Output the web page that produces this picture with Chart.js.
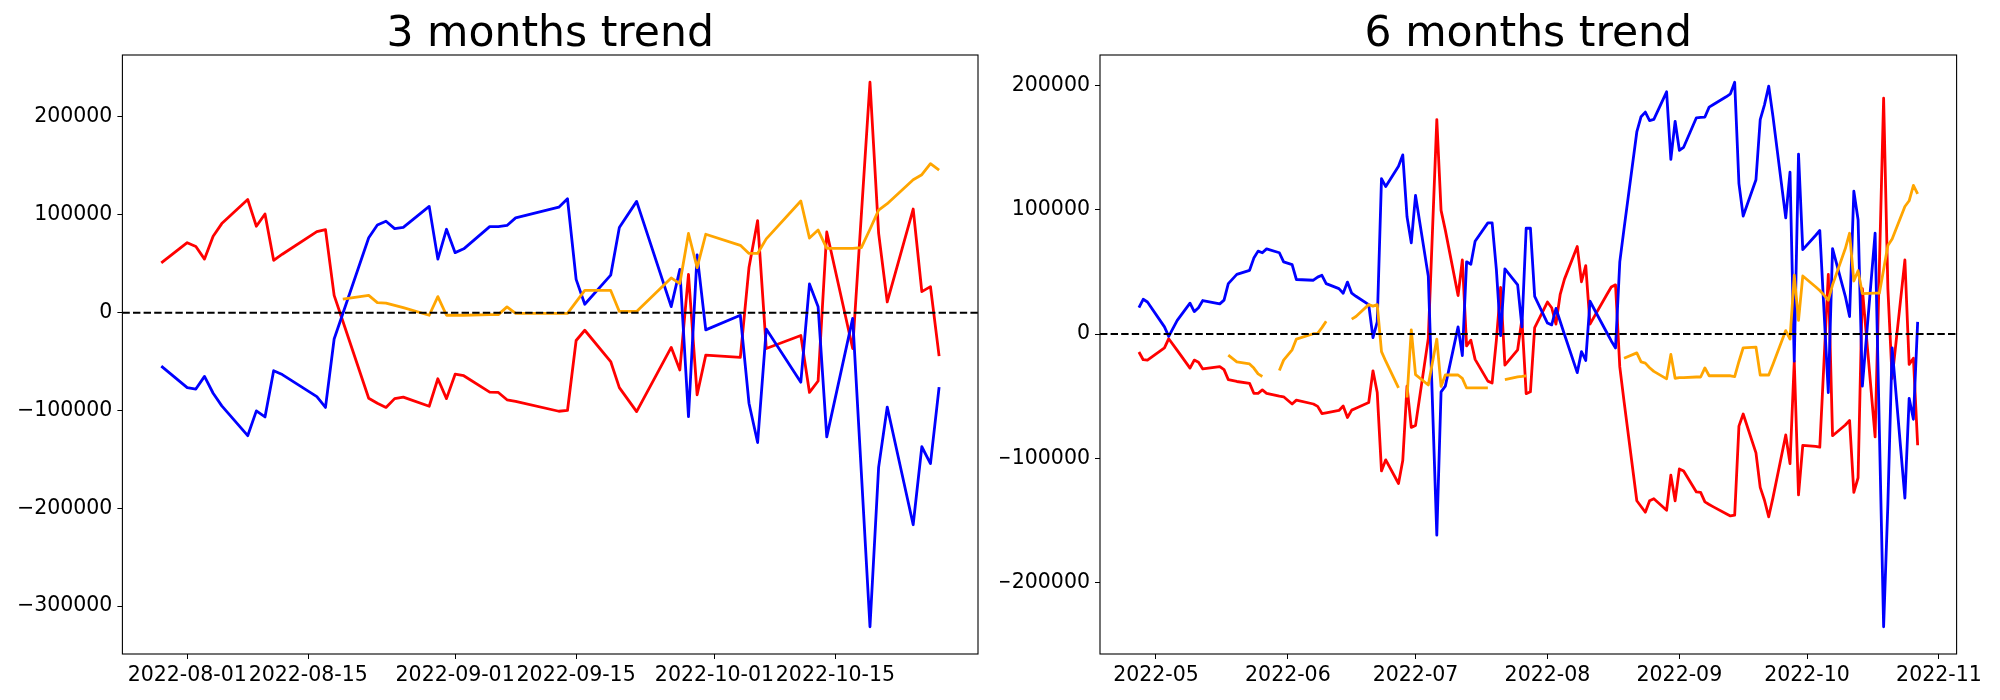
<!DOCTYPE html>
<html>
<head>
<meta charset="utf-8">
<script src="https://cdn.jsdelivr.net/npm/chart.js@4.4.0/dist/chart.umd.min.js"></script>
<style>
  body { margin: 0; background: #fff; }
  .panel { position: absolute; top: 0; width: 1000px; height: 700px; }
</style>
</head>
<body>
<div class="panel" style="left:0"><canvas id="chart3m"></canvas></div>
<div class="panel" style="left:1000px"><canvas id="chart6m"></canvas></div>
<script>
// 3 months data ===========================================
const dates3m = ['2022-07-29','2022-08-01','2022-08-02','2022-08-03','2022-08-04','2022-08-05','2022-08-08','2022-08-09','2022-08-10','2022-08-11',
  '2022-08-12','2022-08-16','2022-08-17','2022-08-18','2022-08-19','2022-08-22','2022-08-23','2022-08-24','2022-08-25','2022-08-26',
  '2022-08-29','2022-08-30','2022-08-31','2022-09-01','2022-09-02','2022-09-05','2022-09-06','2022-09-07','2022-09-08','2022-09-13',
  '2022-09-14','2022-09-15','2022-09-16','2022-09-19','2022-09-20','2022-09-22','2022-09-26','2022-09-27','2022-09-28','2022-09-29',
  '2022-09-30','2022-10-04','2022-10-05','2022-10-06','2022-10-07','2022-10-11','2022-10-12','2022-10-13','2022-10-14','2022-10-17',
  '2022-10-18','2022-10-19','2022-10-20','2022-10-21','2022-10-24','2022-10-25','2022-10-26','2022-10-27'];
const red3m = [50800, 71500, 67600, 54700, 78100, 91000, 115600, 88300, 100800, 53500,
  59700, 82800, 84800, 17600, -8500, -87500, -92600, -96900, -87900, -86300,
  -95700, -67600, -87900, -62900, -64500, -81300, -81600, -89100, -90600, -100800,
  -100000, -28500, -18000, -50000, -76600, -101200, -35500, -58600, 39100, -84000,
  -43400, -45700, 46100, 94100, -36700, -23400, -81600, -69900, 82400, -36700,
  99600, 235500, 81300, 10900, 105900, 21500, 26600, -44500];
const blue3m = [-54700, -76600, -78100, -65200, -82400, -95300, -125800, -100400, -106600, -59400,
  -63300, -85900, -96900, -27000, -1200, 76600, 89500, 93400, 85900, 87100,
  108600, 54700, 85200, 61300, 65200, 87900, 87900, 89100, 96900, 107800,
  116400, 34000, 8600, 38300, 87100, 113700, 6200, 44100, -106300, 59000,
  -17600, -2700, -92600, -132800, -16800, -71100, 29300, 5900, -127000, -5900,
  -163300, -321100, -158200, -96500, -216800, -137100, -154300, -76200];
const orange3m = [null, null, null, null, null, null, null, null, null, null,
  null, null, null, null, 13700, 17600, 10200, 9800, 7400, 5100,
  -2700, 16400, -2700, -2700, -2700, -2000, -2000, 5900, -800, -800,
  -800, 10900, 22700, 22700, 1200, 1200, 35500, 29700, 80900, 46000,
  80100, 68800, 60500, 60500, 75400, 114100, 76200, 84400, 65600, 65600,
  66400, 85200, 104700, 111300, 135900, 141000, 152300, 145700];
const xTicks3m = ['2022-08-01', '2022-08-15', '2022-09-01', '2022-09-15', '2022-10-01', '2022-10-15'];
const yTicks3m = [-300000, -200000, -100000, 0, 100000, 200000];

// 6 months data ===========================================
const dates6m = ['2022-04-27','2022-04-28','2022-04-29','2022-05-03','2022-05-04','2022-05-06','2022-05-09','2022-05-10','2022-05-11','2022-05-12',
  '2022-05-16','2022-05-17','2022-05-18','2022-05-20','2022-05-23','2022-05-24','2022-05-25','2022-05-26','2022-05-27','2022-05-30',
  '2022-05-31','2022-06-02','2022-06-03','2022-06-07','2022-06-08','2022-06-09','2022-06-10','2022-06-13','2022-06-14','2022-06-15',
  '2022-06-16','2022-06-17','2022-06-20','2022-06-21','2022-06-22','2022-06-23','2022-06-24','2022-06-27','2022-06-28','2022-06-29',
  '2022-06-30','2022-07-01','2022-07-04','2022-07-06','2022-07-07','2022-07-08','2022-07-11','2022-07-12','2022-07-13','2022-07-14',
  '2022-07-15','2022-07-18','2022-07-19','2022-07-20','2022-07-21','2022-07-22','2022-07-25','2022-07-26','2022-07-27','2022-07-28',
  '2022-07-29','2022-08-01','2022-08-02','2022-08-03','2022-08-04','2022-08-05','2022-08-08','2022-08-09','2022-08-10','2022-08-11',
  '2022-08-12','2022-08-15','2022-08-16','2022-08-17','2022-08-18','2022-08-19','2022-08-22','2022-08-23','2022-08-24','2022-08-25',
  '2022-08-26','2022-08-29','2022-08-30','2022-08-31','2022-09-01','2022-09-02','2022-09-05','2022-09-06','2022-09-07','2022-09-08',
  '2022-09-09','2022-09-12','2022-09-13','2022-09-14','2022-09-15','2022-09-16','2022-09-19','2022-09-20','2022-09-21','2022-09-22',
  '2022-09-23','2022-09-26','2022-09-27','2022-09-28','2022-09-29','2022-09-30','2022-10-03','2022-10-04','2022-10-05','2022-10-06',
  '2022-10-07','2022-10-10','2022-10-11','2022-10-12','2022-10-13','2022-10-14','2022-10-17','2022-10-18','2022-10-19','2022-10-20',
  '2022-10-21','2022-10-24','2022-10-25','2022-10-26','2022-10-27'];
const red6m = [-14400, -20600, -20900, -11100, -3700, -13100, -27300, -20900, -22700, -28000,
  -26100, -28600, -36600, -38100, -39600, -47600, -47600, -44900, -47600, -49800,
  -50400, -56200, -53100, -56200, -58100, -63900, -63300, -61400, -57800, -67000,
  -61100, -59600, -55000, -29500, -47000, -110000, -101100, -120100, -101700, -41800,
  -75000, -73400, -3400, 172400, 99500, 83600, 31000, 59600, -9500, -4900,
  -20300, -37800, -39300, -4900, 37500, -24900, -12600, 12000, -47900, -46400,
  5200, 25800, 21200, 8000, 32000, 44200, 70400, 42100, 55000, 8000,
  14100, 32000, 37800, 39600, -26400, -54100, -134000, -138600, -143200, -134000,
  -132400, -141600, -113400, -134000, -108400, -110000, -126900, -127200, -134900, -137000,
  -138900, -144400, -146200, -145600, -74000, -64200, -95500, -123200, -133600, -146900,
  -131500, -81100, -104100, -21800, -129300, -89400, -90300, -90900, -21500, 47900,
  -81700, -73100, -69400, -127200, -115500, 36600, -82600, 53500, 189600, 36600,
  -35600, 59600, -24300, -19400, -89400];
const blue6m = [21200, 28000, 25800, 5800, -1800, 11100, 24900, 18100, 21200, 27000,
  24300, 27300, 40600, 48000, 51300, 61100, 66700, 65400, 68500, 65400,
  58000, 55900, 43900, 43300, 45800, 47300, 40600, 36600, 32900, 41800,
  32900, 30400, 23700, -2800, 9800, 125000, 118600, 134900, 144100, 94300,
  73400, 111500, 46400, -161600, -46400, -41800, 5800, -17200, 58100, 56200,
  74700, 89400, 89400, 51900, -1200, 52500, 39600, 5800, 85100, 85100,
  30400, 8900, 7400, 20600, 10100, -300, -31000, -14100, -21200, 26400,
  20000, 900, -5500, -11100, 58100, 84800, 162500, 174800, 178500, 171700,
  172700, 194800, 140400, 171100, 147800, 150200, 173900, 174200, 174500, 182500,
  184600, 190800, 193200, 202500, 121000, 94900, 124100, 172400, 184300, 199400,
  174800, 93400, 130300, -21800, 144700, 67900, 79300, 83300, 18100, -47000,
  68800, 30400, 14100, 114900, 91900, -41800, 81100, -77100, -235300, -136700,
  -11100, -131800, -51600, -68500, 9800];
const orange6m = [null, null, null, null, null, null, null, null, null, null,
  null, null, -16900, -22400, -24000, -27300, -32000, -34100, null, -29200,
  -20900, -12600, -4000, 300, 600, 5200, 10400, null, null, null,
  12000, 14100, 23700, 22500, 23700, -14100, -21800, -43300, null, -51000,
  3400, -32600, -40900, -4000, -42100, -32900, -32900, -35600, -43300, -43300,
  -43300, -43300, null, null, null, -36600, -34400, -34000, -33500, null,
  null, null, null, null, null, null, null, null, null, null,
  null, null, null, null, null, -19400, -15100, -22400, -23300, -27000,
  -30000, -36000, -16300, -35500, -35000, -35000, -34500, -34500, -27200, -33500,
  -33500, -33500, -33500, -34100, -22000, -11000, -10400, -32900, -32900, -32900,
  -24300, 2800, -4000, 47300, 11100, 46700, 38100, 35000, 31300, 27300,
  39600, 68800, 81100, 42700, 51000, 32600, 32900, 32900, 51900, 71300,
  76500, 102600, 107200, 119500, 112700];
const xTicks6m = ['2022-05', '2022-06', '2022-07', '2022-08', '2022-09', '2022-10', '2022-11'];
const yTicks6m = [-200000, -100000, 0, 100000, 200000];

// helpers =================================================
const DAY = 86400000;
function toDay(s) {
  const [y, m, d] = s.split('-').map(Number);
  return Date.UTC(y, m - 1, d || 1) / DAY;
}
function dayLabel(v, len) {
  return new Date(Math.round(v) * DAY).toISOString().slice(0, len);
}
function withMinus(v) {
  return v < 0 ? '\u2212' + Math.abs(v) : String(v);
}
// matplotlib style 5% margins
function margins(lo, hi) {
  const m = (hi - lo) * 0.05;
  return [lo - m, hi + m];
}

const tickFont = { family: 'DejaVu Sans', size: 20.5 };

// zero line, box around the plot area and a title centred over it
const frameAndZero = {
  id: 'frameAndZero',
  afterDatasetsDraw(chart, args, opts) {
    const { ctx, chartArea: a, scales: { y } } = chart;
    const y0 = y.getPixelForValue(0);
    ctx.save();
    ctx.strokeStyle = '#000';
    ctx.lineWidth = 2;
    ctx.setLineDash([7.4, 3.2]);
    ctx.beginPath();
    ctx.moveTo(a.left, y0);
    ctx.lineTo(a.right, y0);
    ctx.stroke();
    ctx.setLineDash([]);
    ctx.lineWidth = 1.1;
    ctx.strokeRect(a.left, a.top, a.right - a.left, a.bottom - a.top);

    ctx.fillStyle = '#000';
    ctx.font = '42.5px "DejaVu Sans"';
    ctx.textAlign = 'center';
    ctx.textBaseline = 'alphabetic';
    ctx.fillText(opts.text, (a.left + a.right) / 2, a.top - 9);
    ctx.restore();
  },
};

function makeChart(canvasId, opt) {
  const xs = opt.dates.map(toDay);
  const vals = [...opt.red, ...opt.blue, ...opt.orange].filter((v) => v !== null);
  const [xMin, xMax] = margins(Math.min(...xs), Math.max(...xs));
  const [yMin, yMax] = margins(Math.min(...vals), Math.max(...vals));

  const line = (values, color) => ({
    data: values.map((v, i) => ({ x: xs[i], y: v })),
    borderColor: color,
    borderWidth: 2.8,
    borderJoinStyle: 'round',
    pointRadius: 0,
    tension: 0,
    fill: false,
    spanGaps: false,
  });

  return new Chart(document.getElementById(canvasId), {
    type: 'line',
    data: {
      datasets: [
        line(opt.orange, '#ffa500'),
        line(opt.blue, '#0000ff'),
        line(opt.red, '#ff0000'),
      ],
    },
    options: {
      responsive: true,
      maintainAspectRatio: false,
      animation: false,
      layout: { padding: { left: 0, right: opt.padRight, top: 55, bottom: 0 } },
      plugins: {
        legend: { display: false },
        tooltip: { enabled: false },
        frameAndZero: { text: opt.title },
      },
      scales: {
        x: {
          type: 'linear',
          min: xMin,
          max: xMax,
          afterBuildTicks: (s) => { s.ticks = opt.xTicks.map((t) => ({ value: toDay(t) })); },
          afterFit: (s) => { s.height = 46; },
          border: { display: false },
          grid: { drawOnChartArea: false, drawTicks: true, tickLength: 5, color: '#000', lineWidth: 1 },
          ticks: {
            autoSkip: false, maxRotation: 0, minRotation: 0, padding: 4,
            color: '#000', font: tickFont,
            callback: (v) => dayLabel(v, opt.labelLen),
          },
        },
        y: {
          type: 'linear',
          min: yMin,
          max: yMax,
          afterBuildTicks: (s) => { s.ticks = opt.yTicks.map((v) => ({ value: v })); },
          afterFit: (s) => { s.width = opt.yWidth; },
          border: { display: false },
          grid: { drawOnChartArea: false, drawTicks: true, tickLength: 5, color: '#000', lineWidth: 1 },
          ticks: { padding: 5, color: '#000', font: tickFont, callback: withMinus },
        },
      },
    },
    plugins: [frameAndZero],
  });
}

makeChart('chart3m', {
  title: '3 months trend', dates: dates3m, red: red3m, blue: blue3m, orange: orange3m,
  xTicks: xTicks3m, yTicks: yTicks3m, labelLen: 10, yWidth: 122.4, padRight: 22,
});
makeChart('chart6m', {
  title: '6 months trend', dates: dates6m, red: red6m, blue: blue6m, orange: orange6m,
  xTicks: xTicks6m, yTicks: yTicks6m, labelLen: 7, yWidth: 100, padRight: 43.4,
});
</script>
</body>
</html>
